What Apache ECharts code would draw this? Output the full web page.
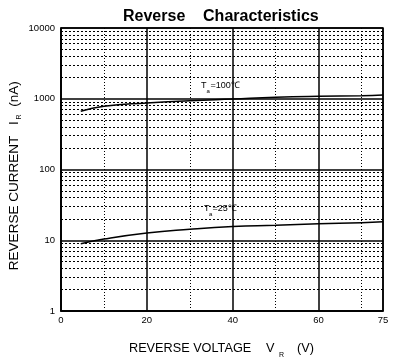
<!DOCTYPE html>
<html><head><meta charset="utf-8">
<script src="https://cdn.jsdelivr.net/npm/echarts@6/dist/echarts.min.js"></script>
<style>html,body{margin:0;padding:0;background:#fff}#c{width:396px;height:358px}</style>
</head><body><div id="c"></div>
<script>
// ---- data ----
const voltage100 = [4.6, 10, 20, 30, 40, 50, 60, 70, 75];
const current100 = [665, 782, 871, 938, 992, 1048, 1083, 1104, 1129];
const voltage25 = [4.6, 10, 20, 30, 40, 50, 60, 70, 75];
const current25 = [8.9, 10.4, 12.7, 14.3, 15.6, 16.3, 17.1, 17.7, 18.3];
const xTickLabels = [0, 20, 40, 60, 75];
const xMinorGrid = [10, 30, 50, 70];
const yMinorGrid = [2, 3, 4, 5, 6, 7, 8, 9,
  20, 30, 40, 50, 60, 70, 80, 90,
  200, 300, 400, 500, 600, 700, 800, 900,
  2000, 3000, 4000, 5000, 6000, 7000, 8000, 9000];

const FF = 'Liberation Sans, Arial, sans-serif';
const pairs = (xs, ys) => xs.map((x, i) => [x, ys[i]]);

function txt(x, y, text, size, opts) {
  opts = opts || {};
  return {
    type: 'text', x: x, y: y, rotation: opts.rot || 0, silent: true, z: 100,
    style: {
      text: text, fill: '#000',
      font: (opts.bold ? 'bold ' : '') + size + 'px ' + FF,
      align: opts.align || 'left', textAlign: opts.align || 'left',
      verticalAlign: 'middle', textVerticalAlign: 'middle'
    }
  };
}

const chart = echarts.init(document.getElementById('c'), null, {renderer: 'canvas'});
chart.setOption({
  animation: false,
  backgroundColor: '#fff',
  grid: {left: 61, right: 13, top: 28, bottom: 47, show: true,
         borderColor: '#000', borderWidth: 1.5, backgroundColor: 'transparent'},
  xAxis: {
    type: 'value', min: 0, max: 75, interval: 20,
    axisLine: {show: true, lineStyle: {color: '#000', width: 1.5}},
    axisTick: {show: false},
    axisLabel: {color: '#000', fontSize: 9.5, fontFamily: FF, margin: 4,
                customValues: xTickLabels, showMinLabel: true, showMaxLabel: true},
    splitLine: {show: true, lineStyle: {color: '#000', width: 1.5}}
  },
  yAxis: {
    type: 'log', logBase: 10, min: 1, max: 10000,
    axisLine: {show: true, lineStyle: {color: '#000', width: 1.5}},
    axisTick: {show: false},
    axisLabel: {color: '#000', fontSize: 9.5, fontFamily: FF, margin: 6,
                formatter: v => String(Math.round(v))},
    splitLine: {show: true, lineStyle: {color: '#000', width: 1.5}}
  },
  series: [
    {
      type: 'line', data: pairs(voltage100, current100), smooth: true,
      showSymbol: false, lineStyle: {color: '#000', width: 1.5}, z: 5,
      markLine: {
        silent: true, symbol: ['none', 'none'], label: {show: false}, z: 1,
        animation: false,
        data: yMinorGrid.map(v => ({yAxis: v, lineStyle: {type: [2, 2], width: 1, color: '#000'}}))
          .concat(xMinorGrid.map(v => ({xAxis: v, lineStyle: {type: [1, 2], width: 1, color: '#000'}})))
      }
    },
    {
      type: 'line', data: pairs(voltage25, current25), smooth: true,
      showSymbol: false, lineStyle: {color: '#000', width: 1.5}, z: 5
    }
  ],
  graphic: [
    txt(123, 17, 'Reverse    Characteristics', 16, {bold: true}),
    // x axis name
    txt(129, 348, 'REVERSE VOLTAGE', 12.7),
    txt(266, 348, 'V', 12.7),
    txt(279, 355, 'R', 7),
    txt(297, 348, '(V)', 12.7),
    // y axis name (rotated)
    txt(14, 203, 'REVERSE CURRENT', 13.5, {rot: Math.PI / 2, align: 'center'}),
    txt(14, 123, 'I', 13.5, {rot: Math.PI / 2, align: 'center'}),
    txt(19, 117, 'R', 7, {rot: Math.PI / 2, align: 'center'}),
    txt(14, 94, '(nA)', 13.5, {rot: Math.PI / 2, align: 'center'}),
    // annotations
    txt(201, 85.5, 'T', 9),
    txt(206.5, 91, 'a', 6),
    txt(210.5, 85.5, '=100℃', 9),
    txt(204, 209, 'T', 9),
    txt(209, 214, 'a', 6),
    txt(212.5, 209, '=25℃', 9)
  ]
});
</script></body></html>
